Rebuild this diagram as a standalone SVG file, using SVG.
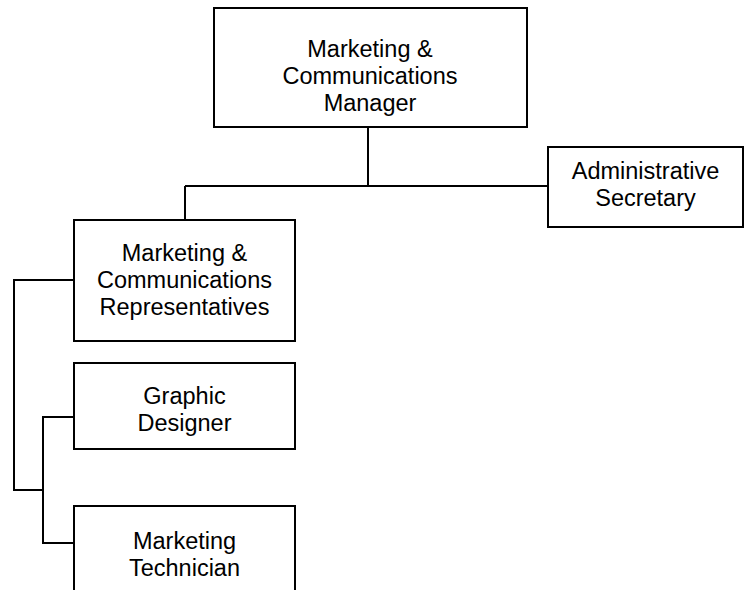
<svg xmlns="http://www.w3.org/2000/svg" width="745" height="590" viewBox="0 0 745 590">
<style>
.box{fill:#fff;stroke:#000;stroke-width:2}
.ln{fill:none;stroke:#000;stroke-width:2}
text{font-family:"Liberation Sans",Arial,sans-serif;font-size:23.5px;fill:#000;text-anchor:middle}
</style>
<rect width="745" height="590" fill="#fff"/>
<g id="connectors">
<path class="ln" d="M368,127 V186 M185,186 H548 M185,186 V220"/>
<path class="ln" d="M74,280 H14 V490 H43"/>
<path class="ln" d="M74,417 H43 V543 H74"/>
</g>
<g id="manager">
<rect class="box" x="214" y="8" width="313" height="119"/>
<text x="370" y="57">Marketing &amp;</text>
<text x="370" y="84">Communications</text>
<text x="370" y="111">Manager</text>
</g>
<g id="admin">
<rect class="box" x="548" y="147" width="195" height="80"/>
<text x="645.5" y="179">Administrative</text>
<text x="645.5" y="206">Secretary</text>
</g>
<g id="reps">
<rect class="box" x="74" y="220" width="221" height="121"/>
<text x="184.5" y="261">Marketing &amp;</text>
<text x="184.5" y="288">Communications</text>
<text x="184.5" y="315">Representatives</text>
</g>
<g id="graphic">
<rect class="box" x="74" y="363" width="221" height="86"/>
<text x="184.5" y="404">Graphic</text>
<text x="184.5" y="431">Designer</text>
</g>
<g id="technician">
<rect class="box" x="74" y="506" width="221" height="100"/>
<text x="184.5" y="549">Marketing</text>
<text x="184.5" y="576">Technician</text>
</g>
</svg>
